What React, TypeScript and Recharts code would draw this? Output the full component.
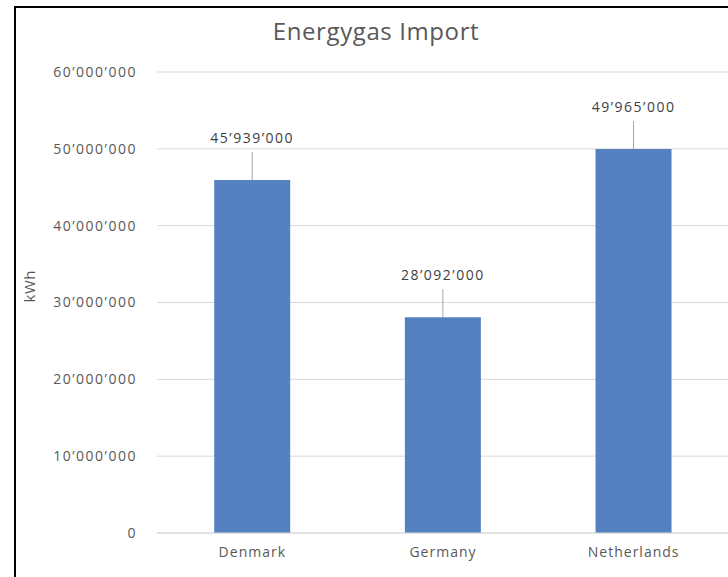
import React from "react";
import { BarChart, Bar, XAxis, YAxis, CartesianGrid, LabelList } from "recharts";

const countries = ["Denmark", "Germany", "Netherlands"];
const imports = [45939000, 28092000, 49965000];
const yTicks = [0, 10000000, 20000000, 30000000, 40000000, 50000000, 60000000];

const data = countries.map((country, i) => ({ country, kwh: imports[i] }));

const FONT = "'Open Sans', sans-serif";
const TEXT = "#595959";

function fmt(v: number) {
  return String(Math.round(v)).replace(/\B(?=(\d{3})+(?!\d))/g, "\u2019");
}

function ValueLabel(props: any) {
  const { x, y, width, value } = props;
  const cx = x + width / 2;
  return (
    <g>
      <line x1={cx} y1={y - 28} x2={cx} y2={y} stroke="#A6A6A6" strokeWidth={1} />
      <text
        x={cx}
        y={y - 43}
        textAnchor="middle"
        dominantBaseline="central"
        fill="#404040"
        fontFamily={FONT}
        fontSize={14}
        letterSpacing={1.5}
      >
        {fmt(value)}
      </text>
    </g>
  );
}

export default function App() {
  return (
    <div
      style={{
        position: "fixed",
        left: 14,
        top: 6,
        width: 714,
        height: 571,
        borderLeft: "2px solid #000",
        borderTop: "2px solid #000",
        background: "#fff",
        overflow: "hidden",
      }}
    >
      <div
        style={{
          position: "absolute",
          left: 0,
          width: 720,
          top: 8,
          textAlign: "center",
          fontFamily: FONT,
          fontSize: 24,
          letterSpacing: 0.6,
          color: TEXT,
          lineHeight: "30px",
        }}
      >
        Energygas Import
      </div>
      <BarChart
        width={713}
        height={569}
        data={data}
        margin={{ top: 64, right: 0, bottom: 0, left: 0 }}
        barCategoryGap="30%"
      >
        <CartesianGrid vertical={false} stroke="#D9D9D9" />
        <XAxis
          dataKey="country"
          height={44}
          tickLine={false}
          tickSize={0}
          tickMargin={14}
          axisLine={{ stroke: "#D9D9D9" }}
          tick={{ fill: TEXT, fontFamily: FONT, fontSize: 14, letterSpacing: 1 }}
        />
        <YAxis
          width={141}
          domain={[0, 60000000]}
          ticks={yTicks}
          tickFormatter={fmt}
          axisLine={false}
          tickLine={false}
          tickSize={0}
          tickMargin={20}
          tick={{ fill: TEXT, fontFamily: FONT, fontSize: 14, letterSpacing: 1.5 }}
          label={{
            value: "kWh",
            angle: -90,
            position: "insideLeft",
            offset: 14,
            fill: TEXT,
            fontFamily: FONT,
            fontSize: 15,
            letterSpacing: 0.5,
          }}
        />
        <Bar dataKey="kwh" fill="#5681C1" isAnimationActive={false}>
          <LabelList dataKey="kwh" content={ValueLabel} />
        </Bar>
      </BarChart>
    </div>
  );
}
